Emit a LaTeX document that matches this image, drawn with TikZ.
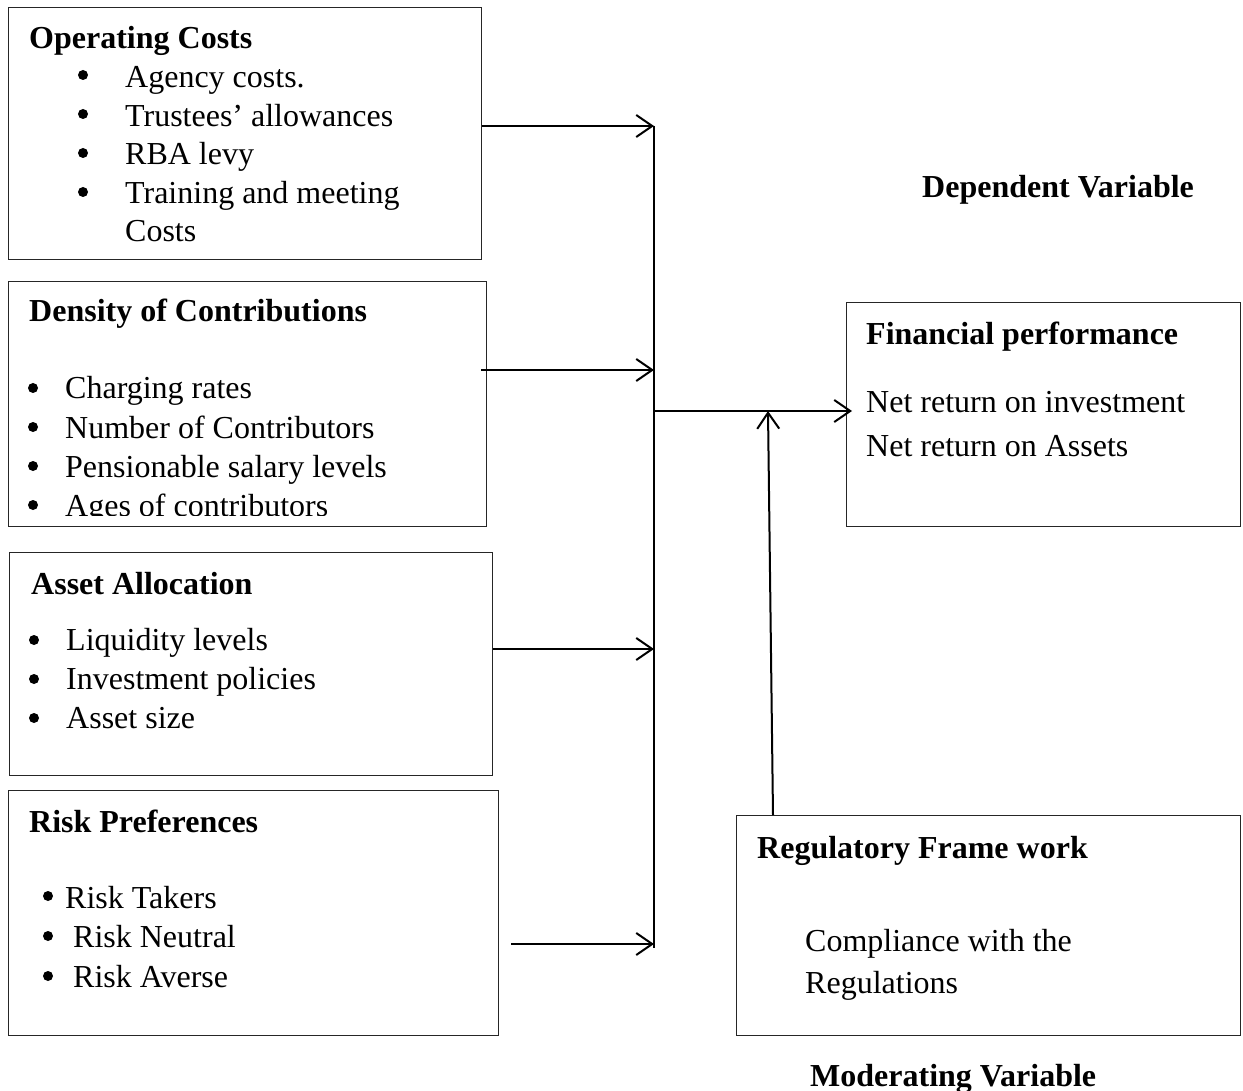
\documentclass[tikz,border=0pt]{standalone}
\usepackage{fontspec}
\setmainfont{Liberation Serif}
\usetikzlibrary{arrows.meta}
\begin{document}
\begin{tikzpicture}[x=1pt,y=-1pt,
  box/.style={draw=black!85,line width=1.2pt,rectangle,inner sep=0pt,anchor=north west},
  txt/.style={anchor=base west,inner sep=0pt,yshift=-2pt,font=\fontsize{32}{38}\selectfont},
  hd/.style={txt,font=\fontsize{32}{38}\selectfont\bfseries},
  bul/.style={circle,fill=black,draw=none,inner sep=0pt,minimum size=10pt},
  arr/.style={line width=2pt,-{Straight Barb[length=16pt,width=22pt,line width=2pt]}},
  bus/.style={line width=2pt}]
\useasboundingbox (0,0) rectangle (1243,1091);
\fill[white] (0,0) rectangle (1243,1091);
% boxes
\node[box,minimum width=473pt,minimum height=252pt] (oc) at (8,7) {};
\node[box,minimum width=478pt,minimum height=245pt] (dc) at (8,281) {};
\node[box,minimum width=483pt,minimum height=223pt] (aa) at (9,552) {};
\node[box,minimum width=490pt,minimum height=245pt] (rp) at (8,790) {};
\node[box,minimum width=394pt,minimum height=224pt] (fp) at (846,302) {};
\node[box,minimum width=504pt,minimum height=220pt] (rf) at (736,815) {};
% box 1
\node[hd] (t1) at (29,47) {Operating Costs};
\node[bul] (b11) at (83,75) {}; \node[txt] (t11) at (125,86) {Agency costs.};
\node[bul] (b12) at (83,114) {}; \node[txt] (t12) at (125,125) {Trustees’ allowances};
\node[bul] (b13) at (83,153) {}; \node[txt] (t13) at (125,163) {RBA levy};
\node[bul] (b14) at (83,192) {}; \node[txt] (t14) at (125,202) {Training and meeting};
\node[txt] (t15) at (125,240) {Costs};
% box 2
\node[hd] (t2) at (29,320) {Density of Contributions};
\node[bul] (b21) at (33,388) {}; \node[txt] (t21) at (65,397) {Charging rates};
\node[bul] (b22) at (33,427) {}; \node[txt] (t22) at (65,436) {Number of Contributors};
\node[bul] (b23) at (33,466) {}; \node[txt] (t23) at (65,475) {Pensionable salary levels};
\begin{scope}
\clip (0,0) rectangle (1243,515);
\node[bul] (b24) at (33,505) {}; \node[txt] (t24) at (65,514) {Ages of contributors};
\end{scope}
% box 3
\node[hd] (t3) at (31,592) {Asset Allocation};
\node[bul] (b31) at (34,640) {}; \node[txt] (t31) at (66,648) {Liquidity levels};
\node[bul] (b32) at (34,679) {}; \node[txt] (t32) at (66,687) {Investment policies};
\node[bul] (b33) at (34,718) {}; \node[txt] (t33) at (66,726) {Asset size};
% box 4
\node[hd] (t4) at (29,830) {Risk Preferences};
\node[bul] (b41) at (48,896) {}; \node[txt] (t41) at (65,906) {Risk Takers};
\node[bul] (b42) at (48,936) {}; \node[txt] (t42) at (73,945) {Risk Neutral};
\node[bul] (b43) at (48,976) {}; \node[txt] (t43) at (73,985) {Risk Averse};
% financial
\node[hd] (t5) at (866,343) {Financial performance};
\node[txt] (t51) at (866,411) {Net return on investment};
\node[txt] (t52) at (866,454) {Net return on Assets};
% regulatory
\node[hd] (t6) at (757,856) {Regulatory Frame work};
\node[txt] (t61) at (805,949) {Compliance with the};
\node[txt] (t62) at (805,991) {Regulations};
% labels
\node[hd] (dv) at (922,196) {Dependent Variable};
\node[hd] (mv) at (810,1084) {Moderating Variable};
% connectors
\coordinate (j1) at (654,126);
\coordinate (j2) at (654,370);
\coordinate (j3) at (654,649);
\coordinate (j4) at (654,944);
\coordinate (jb) at (654,948);
\coordinate (jm) at (654,411);
\coordinate (s4) at (511,944);
\coordinate (fin) at (852,411);
\coordinate (rtop) at (768,411);
\coordinate (rbot) at (773,815);
\draw[bus] (j1) -- (jb);
\draw[arr] (oc.east |- j1) -- (j1);
\draw[arr] (481,370) -- (j2);
\draw[arr] (aa.east |- j3) -- (j3);
\draw[arr] (s4) -- (j4);
\draw[arr] (jm) -- (fin);
\draw[arr] (rbot) -- (rtop);
\end{tikzpicture}
\end{document}
